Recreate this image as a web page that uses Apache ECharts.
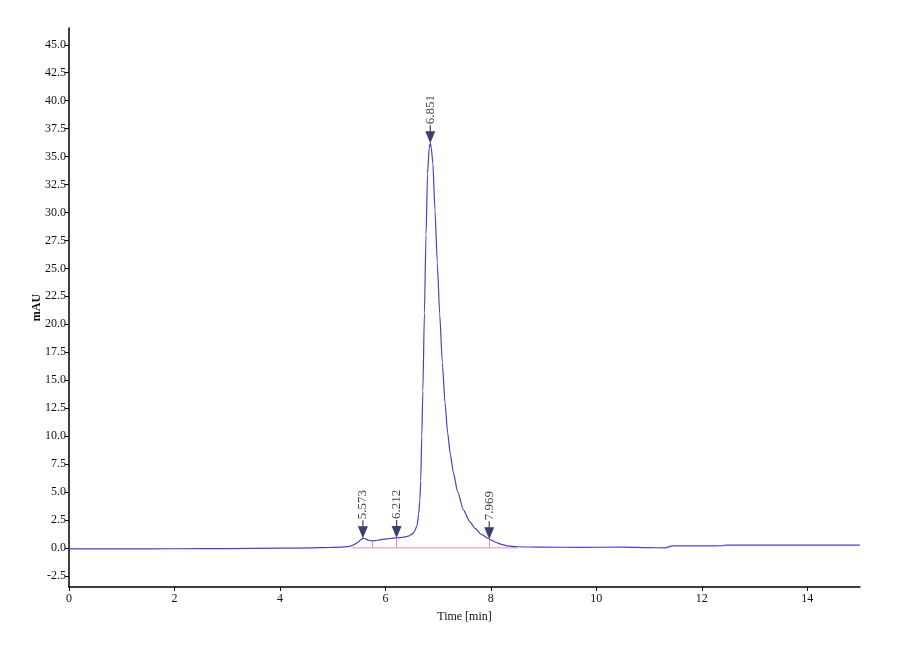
<!DOCTYPE html>
<html>
<head>
<meta charset="utf-8">
<title>Chromatogram</title>
<script src="https://cdn.jsdelivr.net/npm/echarts@6/dist/echarts.min.js"></script>
<style>
  html, body { margin: 0; padding: 0; background: #fff; }
  #chart { width: 900px; height: 660px; }
</style>
</head>
<body>
<div id="chart"></div>
<script>
// trace (time in min, signal in mAU)
const times = [0, 1, 2, 3, 4, 4.6, 4.83, 5.0, 5.15, 5.3, 5.4, 5.48, 5.53, 5.573, 5.62, 5.68, 5.76, 5.85, 5.97, 6.1, 6.212, 6.33, 6.42, 6.5, 6.55, 6.6, 6.63, 6.654, 6.67, 6.69, 6.71, 6.74, 6.77, 6.8, 6.83, 6.851, 6.87, 6.9, 6.94, 6.984, 7.03, 7.079, 7.13, 7.18, 7.23, 7.29, 7.37, 7.48, 7.6, 7.7, 7.82, 7.969, 8.1, 8.2, 8.31, 8.5, 8.95, 9.7, 10.5, 11.0, 11.3, 11.45, 12.0, 12.4, 12.45, 13.0, 14.0, 15.0];
const signal = [-0.09, -0.09, -0.08, -0.06, -0.03, 0.0, 0.03, 0.04, 0.06, 0.12, 0.27, 0.5, 0.72, 0.87, 0.8, 0.68, 0.63, 0.68, 0.78, 0.84, 0.89, 0.95, 1.03, 1.2, 1.45, 2.0, 3.0, 4.3, 6.0, 10.0, 14.0, 21.0, 28.0, 33.5, 35.8, 36.2, 35.8, 34.4, 30.2, 25.5, 20.9, 16.6, 13.0, 10.3, 8.4, 6.7, 5.0, 3.4, 2.35, 1.75, 1.2, 0.78, 0.48, 0.32, 0.18, 0.1, 0.06, 0.05, 0.06, 0.02, 0.0, 0.18, 0.18, 0.19, 0.24, 0.24, 0.24, 0.24];

// integration marks
const peakTimes = [5.573, 6.212, 6.851, 7.969];
const peakHeights = [0.87, 0.89, 36.2, 0.78];
const peakLabels = ['5.573', '6.212', '6.851', '7.969'];
const dropTimes = [5.76, 6.212, 7.969];
const dropHeights = [0.63, 0.89, 0.78];
const baselineTimes = [5.35, 8.5];
const baselineValues = [0, 0];

// axes
const xTicks = [0, 2, 4, 6, 8, 10, 12, 14];
const yTicks = [-2.5, 0, 2.5, 5, 7.5, 10, 12.5, 15, 17.5, 20, 22.5, 25, 27.5, 30, 32.5, 35, 37.5, 40, 42.5, 45];

const serif = 'Liberation Serif';

let trace = times.map((t, i) => [t, signal[i]]);
let baseline = baselineTimes.map((t, i) => [t, baselineValues[i]]);
let peaks = peakTimes.map((t, i) => ({ value: [t, peakHeights[i]], name: peakLabels[i] }));
let drops = dropTimes.map((t, i) => [{ coord: [t, 0] }, { coord: [t, dropHeights[i]] }]);

let chart = echarts.init(document.getElementById('chart'));
chart.setOption({
  animation: false,
  backgroundColor: '#fff',
  grid: { left: 69, right: 40, top: 28, bottom: 73 },
  xAxis: {
    type: 'value',
    min: 0,
    max: 15,
    name: 'Time [min]',
    nameLocation: 'middle',
    nameGap: 24,
    nameTextStyle: { fontFamily: serif, fontSize: 12, color: '#111' },
    axisLine: { onZero: false, lineStyle: { color: '#000', width: 1.5 } },
    axisTick: { customValues: xTicks, length: 4, lineStyle: { color: '#000' } },
    axisLabel: {
      customValues: xTicks,
      fontFamily: serif, fontSize: 12, color: '#111', margin: 6
    },
    splitLine: { show: false }
  },
  yAxis: {
    type: 'value',
    min: -3.5,
    max: 46.5,
    name: 'mAU',
    nameLocation: 'middle',
    nameGap: 26,
    nameMoveOverlap: false,
    nameTextStyle: { fontFamily: serif, fontSize: 12, color: '#111', fontWeight: 'bold' },
    axisLine: { show: true, onZero: false, lineStyle: { color: '#000', width: 1.5 } },
    axisTick: { show: true, customValues: yTicks, length: 4, lineStyle: { color: '#000' } },
    axisLabel: {
      customValues: yTicks,
      formatter: (v) => v.toFixed(1),
      fontFamily: serif, fontSize: 12, color: '#111', margin: 3
    },
    splitLine: { show: false }
  },
  series: [
    {
      name: 'baseline',
      type: 'line',
      data: baseline,
      symbol: 'none',
      lineStyle: { color: '#f08cb4', width: 1 },
      z: 1,
      markLine: {
        silent: true,
        symbol: 'none',
        label: { show: false },
        lineStyle: { color: '#f08cb4', width: 1, type: 'solid' },
        data: drops
      }
    },
    {
      name: 'signal',
      type: 'line',
      data: trace,
      symbol: 'none',
      smooth: 0.2,
      smoothMonotone: 'x',
      lineStyle: { color: '#4343c6', width: 1.2 },
      z: 2
    },
    {
      name: 'peaks',
      type: 'scatter',
      data: peaks,
      symbol: 'path://M4.4,0 L5.6,0 L5.6,6 L10,6 L5,18 L0,6 L4.4,6 Z',
      symbolSize: [10, 18],
      symbolOffset: [0, '-50%'],
      itemStyle: { color: '#0b0f4c' },
      z: 3,
      label: {
        show: true,
        formatter: (p) => p.name,
        position: 'top',
        distance: 1,
        rotate: 90,
        align: 'left',
        verticalAlign: 'middle',
        fontFamily: serif,
        fontSize: 13,
        color: '#111'
      }
    }
  ]
});
</script>
</body>
</html>
